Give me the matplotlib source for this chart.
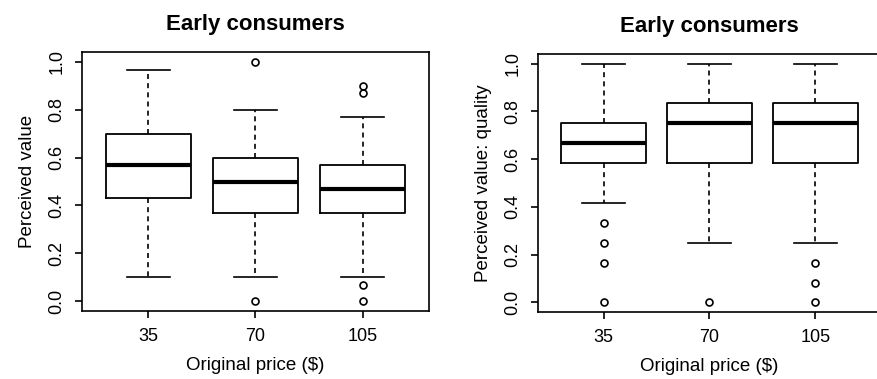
import matplotlib
matplotlib.use("Agg")
import matplotlib.pyplot as plt

plt.rcParams['font.family'] = ['Liberation Sans', 'DejaVu Sans']

# price groups
prices = ["35", "70", "105"]

# left panel: perceived value
pv_whislo = [0.10, 0.10, 0.10]
pv_q1 = [0.433, 0.367, 0.367]
pv_med = [0.567, 0.50, 0.467]
pv_q3 = [0.70, 0.60, 0.567]
pv_whishi = [0.967, 0.80, 0.767]
pv_fliers = [[], [1.0, 0.0], [0.90, 0.867, 0.067, 0.0]]

# right panel: perceived value (quality)
pq_whislo = [0.417, 0.25, 0.25]
pq_q1 = [0.583, 0.583, 0.583]
pq_med = [0.667, 0.75, 0.75]
pq_q3 = [0.75, 0.833, 0.833]
pq_whishi = [1.0, 1.0, 1.0]
pq_fliers = [[0.333, 0.25, 0.167, 0.0], [0.0], [0.167, 0.083, 0.0]]


def make_stats(lo, q1, med, q3, hi, fl):
    out = []
    for i in range(len(prices)):
        out.append(dict(whislo=lo[i], q1=q1[i], med=med[i], q3=q3[i],
                        whishi=hi[i], fliers=fl[i], label=prices[i]))
    return out


def draw_panel(ax, stats, ylabel):
    ax.bxp(stats, positions=[1, 2, 3], widths=0.8, capwidths=0.4,
           boxprops=dict(color='black', linewidth=1.3),
           medianprops=dict(color='black', linewidth=3.0, solid_capstyle='butt'),
           whiskerprops=dict(color='black', linewidth=1.2, linestyle=(0, (3, 2.5))),
           capprops=dict(color='black', linewidth=1.2),
           flierprops=dict(marker='o', markersize=5, markerfacecolor='none',
                           markeredgecolor='black', markeredgewidth=1.2))
    ax.set_xlim(0.38, 3.62)
    ax.set_ylim(-0.04, 1.04)
    ax.set_yticks([0.0, 0.2, 0.4, 0.6, 0.8, 1.0])
    ax.set_yticklabels(["0.0", "0.2", "0.4", "0.6", "0.8", "1.0"],
                       rotation=90, va='center')
    ax.tick_params(axis='both', length=5, width=1.2, labelsize=13, pad=7)
    for s in ax.spines.values():
        s.set_linewidth(1.2)
    ax.set_title("Early consumers", fontsize=16, fontweight='bold', pad=16)
    ax.set_xlabel("Original price ($)", fontsize=13.5, labelpad=9)
    ax.set_ylabel(ylabel, fontsize=13.5, labelpad=9)


fig = plt.figure(figsize=(8.78, 3.79), dpi=100)
ax1 = fig.add_axes([82 / 878, 1 - 311 / 379, 347 / 878, 259 / 379])
ax2 = fig.add_axes([538 / 878, 1 - 312 / 379, 343 / 878, 258 / 379])

draw_panel(ax1, make_stats(pv_whislo, pv_q1, pv_med, pv_q3, pv_whishi, pv_fliers),
           "Perceived value")
draw_panel(ax2, make_stats(pq_whislo, pq_q1, pq_med, pq_q3, pq_whishi, pq_fliers),
           "Perceived value: quality")

fig.savefig("out.png", dpi=100)
